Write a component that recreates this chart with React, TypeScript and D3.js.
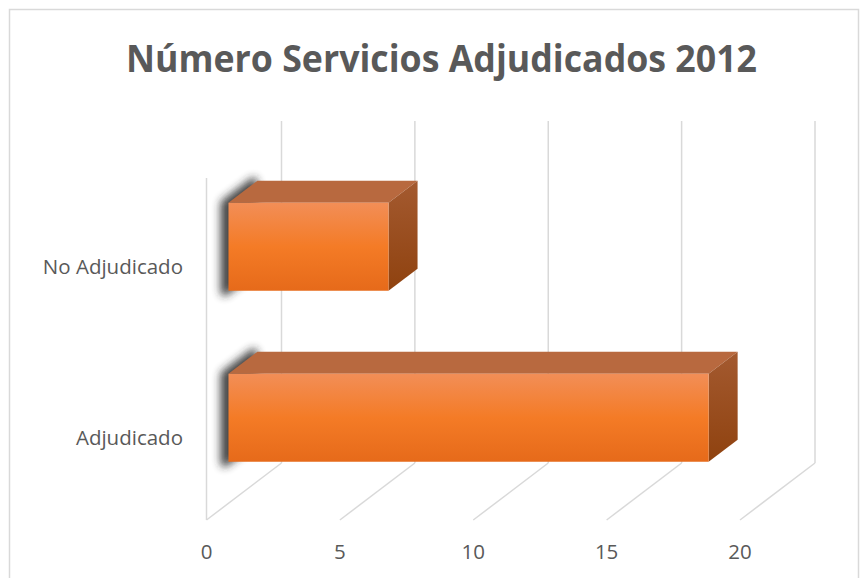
import React from "react";
import * as d3 from "d3";

const categories = ["No Adjudicado", "Adjudicado"];
const values = [6, 18];
const xTicks = [0, 5, 10, 15, 20];
const title = "Número Servicios Adjudicados 2012";

const W = 861;
const H = 578;
const DX = 75;
const DY = -57;
const zFront = 0.293;
const zBack = 0.68;

export default function App() {
  const x = d3.scaleLinear().domain([0, 20]).range([206.5, 740]);
  const yb = d3.scaleBand().domain(categories).range([178, 520]).padding(0);
  const barH = yb.bandwidth() * 0.515;
  const proj = (v: number, y: number, z: number): [number, number] => [x(v) + z * DX, y + z * DY];
  const poly = (pts: [number, number][]) => pts.map((p) => p.join(",")).join(" ");
  const grid = "#D9D9D9";
  const text = "#595959";
  const font = "'Open Sans', sans-serif";

  return (
    <svg width={W} height={H} style={{ position: "absolute", left: 0, top: 0, background: "#fff" }}>
      <defs>
        <linearGradient id="front" x1="0" y1="0" x2="0" y2="1">
          <stop offset="0" stopColor="#F28E57" />
          <stop offset="0.5" stopColor="#F47B26" />
          <stop offset="1" stopColor="#E66A1A" />
        </linearGradient>
        <linearGradient id="side" x1="0" y1="0" x2="0" y2="1">
          <stop offset="0" stopColor="#A45A30" />
          <stop offset="1" stopColor="#8F420F" />
        </linearGradient>
        <filter id="blur" x="-50%" y="-50%" width="200%" height="200%">
          <feGaussianBlur stdDeviation="4" />
        </filter>
      </defs>
      <rect x={9.5} y={9.5} width={849} height={590} fill="#fff" stroke={grid} strokeWidth={1.5} />
      <text
        x={441.5}
        y={72}
        textAnchor="middle"
        fontFamily={font}
        fontWeight="bold"
        fontSize={37}
        fill={text}
        textLength={631}
        lengthAdjust="spacingAndGlyphs"
      >
        {title}
      </text>
      <line x1={x(0)} y1={178} x2={x(0)} y2={520} stroke={grid} strokeWidth={1.5} />
      {xTicks.map((t) => (
        <g key={t}>
          <line x1={x(t) + DX} y1={178 + DY} x2={x(t) + DX} y2={520 + DY} stroke={grid} strokeWidth={1.5} />
          <line x1={x(t)} y1={520} x2={x(t) + DX} y2={520 + DY} stroke={grid} strokeWidth={1.5} />
          <text x={x(t)} y={559} textAnchor="middle" fontFamily={font} fontSize={20.5} fill={text}>
            {t}
          </text>
        </g>
      ))}
      {categories.map((c, i) => {
        const cy = (yb(c) as number) + yb.bandwidth() / 2;
        const y0 = cy - barH / 2;
        const y1 = cy + barH / 2;
        const v = values[i];
        const fTL = proj(0, y0, zFront);
        const fTR = proj(v, y0, zFront);
        const fBR = proj(v, y1, zFront);
        const fBL = proj(0, y1, zFront);
        const bTL = proj(0, y0, zBack);
        const bTR = proj(v, y0, zBack);
        const bBR = proj(v, y1, zBack);
        const bBL = proj(0, y1, zBack);
        const sh = (p: [number, number]): [number, number] => [p[0] - 4, p[1] + 1];
        return (
          <g key={c}>
            <polygon
              points={poly([sh(fTL), sh(bTL), sh(bBL), sh(fBL)])}
              fill="#262626"
              stroke="#262626"
              strokeWidth={8}
              strokeLinejoin="round"
              opacity={0.85}
              filter="url(#blur)"
            />
            <polygon points={poly([fTL, bTL, bTR, fTR])} fill="#B8693F" />
            <polygon points={poly([fTR, bTR, bBR, fBR])} fill="url(#side)" />
            <polygon points={poly([fTL, fTR, fBR, fBL])} fill="url(#front)" />
            <text
              x={183}
              y={cy + 2}
              textAnchor="end"
              dominantBaseline="central"
              fontFamily={font}
              fontSize={20.5}
              fill={text}
            >
              {c}
            </text>
          </g>
        );
      })}
    </svg>
  );
}
